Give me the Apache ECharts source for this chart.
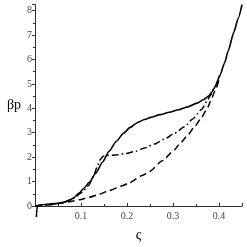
<!DOCTYPE html>
<html><head><meta charset="utf-8">
<script src="https://cdn.jsdelivr.net/npm/echarts@6/dist/echarts.min.js"></script>
<style>html,body{margin:0;padding:0;background:#fff}#c{width:247px;height:247px}</style>
</head><body><div id="c"></div>
<script>
var xTickLabels = ['0.1', '0.2', '0.3', '0.4'];
var yTickLabels = ['0', '1', '2', '3', '4', '5', '6', '7', '8'];

var solidX = [0.003,0.0035,0.004,0.005,0.007,0.011,0.022,0.042,0.062,0.074,0.085,0.096,0.107,0.118,0.132,0.147,0.161,0.176,0.192,0.207,0.222,0.238,0.252,0.272,0.292,0.312,0.332,0.352,0.367,0.377,0.385,0.392,0.402,0.412,0.42,0.432,0.442,0.45];
var solidY = [-0.45,-0.3,-0.15,-0.05,0.0,0.04,0.06,0.1,0.15,0.22,0.35,0.53,0.74,0.97,1.34,1.8,2.24,2.63,2.97,3.22,3.41,3.54,3.63,3.74,3.84,3.94,4.06,4.21,4.36,4.5,4.68,4.9,5.35,5.85,6.35,7.1,7.7,8.25];

var dashDotX = [0,0.022,0.042,0.062,0.082,0.102,0.117,0.127,0.135,0.142,0.148,0.154,0.167,0.182,0.198,0.217,0.238,0.26,0.281,0.303,0.325,0.342,0.362,0.374,0.382,0.391,0.402];
var dashDotY = [0,0.04,0.08,0.15,0.3,0.55,0.85,1.2,1.6,1.9,2.04,2.07,2.08,2.1,2.15,2.23,2.37,2.54,2.74,2.97,3.24,3.55,3.95,4.3,4.55,4.88,5.35];

var dashedX = [0,0.032,0.052,0.074,0.097,0.118,0.14,0.161,0.19,0.205,0.233,0.249,0.277,0.303,0.314,0.332,0.347,0.362,0.374,0.382,0.391,0.402];
var dashedY = [0,0.05,0.1,0.17,0.26,0.36,0.48,0.63,0.83,0.95,1.25,1.41,1.85,2.3,2.53,2.9,3.25,3.62,3.98,4.3,4.7,5.3];

function pairs(xs, ys){ return xs.map(function(x,i){return [x, ys[i]];}); }

var serif = 'Liberation Serif';
var chart = echarts.init(document.getElementById('c'));
chart.setOption({
  animation: false,
  grid: {left: 35, right: 5, top: 4.5, bottom: 31},
  xAxis: {
    type: 'value', min: 0, max: 0.45, interval: 0.1,
    name: 'ς', nameLocation: 'middle', nameGap: 22,
    nameTextStyle: {fontFamily: serif, fontSize: 14, color: '#000'},
    axisLine: {lineStyle: {color: '#333', width: 1}},
    axisTick: {show: true, inside: true, length: 3, lineStyle: {color: '#333'}},
    minorTick: {show: true, splitNumber: 2, length: 2, lineStyle: {color: '#333'}},
    axisLabel: {showMinLabel: false, showMaxLabel: false, fontFamily: serif, fontSize: 10, color: '#444', margin: 5,
      formatter: function(v){ var s = String(+v.toFixed(2)); return xTickLabels.indexOf(s) >= 0 ? s : ''; }},
    splitLine: {show: false}, minorSplitLine: {show: false}
  },
  yAxis: {
    type: 'value', min: 0, max: 8.25, interval: 1,
    name: 'βp', nameLocation: 'middle', nameGap: 14, nameRotate: 0,
    nameTextStyle: {fontFamily: serif, fontSize: 14, color: '#000', align: 'right', padding: [16, 0, 0, 0]},
    axisLine: {show: true, lineStyle: {color: '#333', width: 1}},
    axisTick: {show: true, length: 3, lineStyle: {color: '#333'}},
    minorTick: {show: true, splitNumber: 2, length: 2, lineStyle: {color: '#333'}},
    axisLabel: {showMaxLabel: false, fontFamily: serif, fontSize: 10, color: '#444', margin: 3,
      formatter: function(v){ var s = String(v); return yTickLabels.indexOf(s) >= 0 ? s : ''; }},
    splitLine: {show: false}, minorSplitLine: {show: false}
  },
  series: [{
    type: 'line', data: pairs(solidX, solidY), showSymbol: false, smooth: 0.2, smoothMonotone: 'x', clip: false,
    lineStyle: {color: '#000', width: 1.6, type: 'solid'}
  }, {
    type: 'line', data: pairs(dashDotX, dashDotY), showSymbol: false, smooth: 0.2, smoothMonotone: 'x', clip: false,
    lineStyle: {color: '#000', width: 1.5, type: [7, 3, 1.5, 3]}
  }, {
    type: 'line', data: pairs(dashedX, dashedY), showSymbol: false, smooth: 0.2, smoothMonotone: 'x', clip: false,
    lineStyle: {color: '#000', width: 1.5, type: [7, 4]}
  }]
});
</script></body></html>
